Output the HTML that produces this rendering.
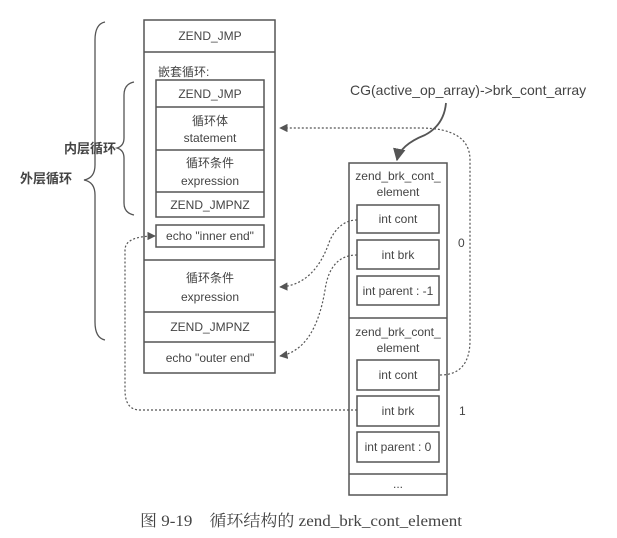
<!DOCTYPE html>
<html><head><meta charset="utf-8"><style>
html,body{margin:0;padding:0;background:#fff;}
svg{display:block;}
text{font-family:"Liberation Sans","Noto Sans CJK SC",sans-serif;fill:#444;}
</style></head><body>
<svg width="617" height="538" viewBox="0 0 617 538" xmlns="http://www.w3.org/2000/svg">
<defs>
<marker id="ah" viewBox="0 0 10 10" refX="9" refY="5" markerWidth="7" markerHeight="7" orient="auto"><path d="M0,0L10,5L0,10z" fill="#555"/></marker>
</defs>
<g fill="none" stroke="#555" stroke-width="1.5">
<rect x="144" y="20" width="131" height="353"/>
<line x1="144" y1="52" x2="275" y2="52"/>
<line x1="144" y1="260" x2="275" y2="260"/>
<line x1="144" y1="312" x2="275" y2="312"/>
<line x1="144" y1="342" x2="275" y2="342"/>
<rect x="156" y="80" width="108" height="137"/>
<line x1="156" y1="107" x2="264" y2="107"/>
<line x1="156" y1="150" x2="264" y2="150"/>
<line x1="156" y1="192" x2="264" y2="192"/>
<rect x="156" y="225" width="108" height="22"/>
<rect x="349" y="163" width="98" height="332"/>
<line x1="349" y1="318" x2="447" y2="318"/>
<line x1="349" y1="474" x2="447" y2="474"/>
<rect x="357" y="205" width="82" height="28"/>
<rect x="357" y="240" width="82" height="29"/>
<rect x="357" y="276" width="82" height="29"/>
<rect x="357" y="360" width="82" height="30"/>
<rect x="357" y="396" width="82" height="30"/>
<rect x="357" y="432" width="82" height="30"/>
</g>
<g fill="none" stroke="#555" stroke-width="1.3">
<path d="M105,22 Q95,24 95,40 L95,165 Q95,178 84,180 Q95,182 95,195 L95,322 Q95,338 105,340"/>
<path d="M134,82 Q124,84 124,95 L124,138 Q124,146 117,148 Q124,150 124,158 L124,203 Q124,213 134,215"/>
<path d="M446,103 Q444,125 425,135 Q400,145 397,160" stroke-width="1.8" marker-end="url(#ah)"/>
</g>
<g fill="none" stroke="#555" stroke-width="1.2" stroke-dasharray="2,2">
<path d="M440,375 Q470,375 470,340 L470,160 Q470,128 420,128 L280,128" marker-end="url(#ah)"/>
<path d="M357,220 Q340,220 330,240 Q315,285 280,287" marker-end="url(#ah)"/>
<path d="M357,255 Q330,255 325,290 Q315,350 280,356" marker-end="url(#ah)"/>
<path d="M357,410 L140,410 Q125,410 125,390 L125,250 Q125,236 155,236" marker-end="url(#ah)"/>
</g>
<g font-size="12" text-anchor="middle">
<text x="210" y="40">ZEND_JMP</text>
<text x="210" y="98">ZEND_JMP</text>
<text x="210" y="125">循环体</text>
<text x="210" y="142">statement</text>
<text x="210" y="167">循环条件</text>
<text x="210" y="185">expression</text>
<text x="210" y="209">ZEND_JMPNZ</text>
<text x="210" y="240">echo  "inner end"</text>
<text x="210" y="282">循环条件</text>
<text x="210" y="301">expression</text>
<text x="210" y="331">ZEND_JMPNZ</text>
<text x="210" y="362">echo "outer end"</text>
<text x="398" y="180">zend_brk_cont_</text>
<text x="398" y="196">element</text>
<text x="398" y="223">int cont</text>
<text x="398" y="259">int brk</text>
<text x="398" y="295">int parent : -1</text>
<text x="398" y="336">zend_brk_cont_</text>
<text x="398" y="352">element</text>
<text x="398" y="379">int cont</text>
<text x="398" y="415">int brk</text>
<text x="398" y="451">int parent : 0</text>
<text x="398" y="488">...</text>
</g>
<text x="158" y="76" font-size="12">嵌套循环:</text>
<text x="458" y="247" font-size="12">0</text>
<text x="459" y="415" font-size="12">1</text>
<text x="350" y="95" font-size="14">CG(active_op_array)-&gt;brk_cont_array</text>
<text x="64" y="153" font-size="13" font-weight="bold">内层循环</text>
<text x="20" y="183" font-size="13" font-weight="bold">外层循环</text>
<text x="140" y="526" font-size="16" textLength="322" lengthAdjust="spacingAndGlyphs" style="font-family:'Liberation Serif','Noto Serif CJK SC',serif" fill="#333">图 9-19　循环结构的 zend_brk_cont_element</text>
</svg>
</body></html>
